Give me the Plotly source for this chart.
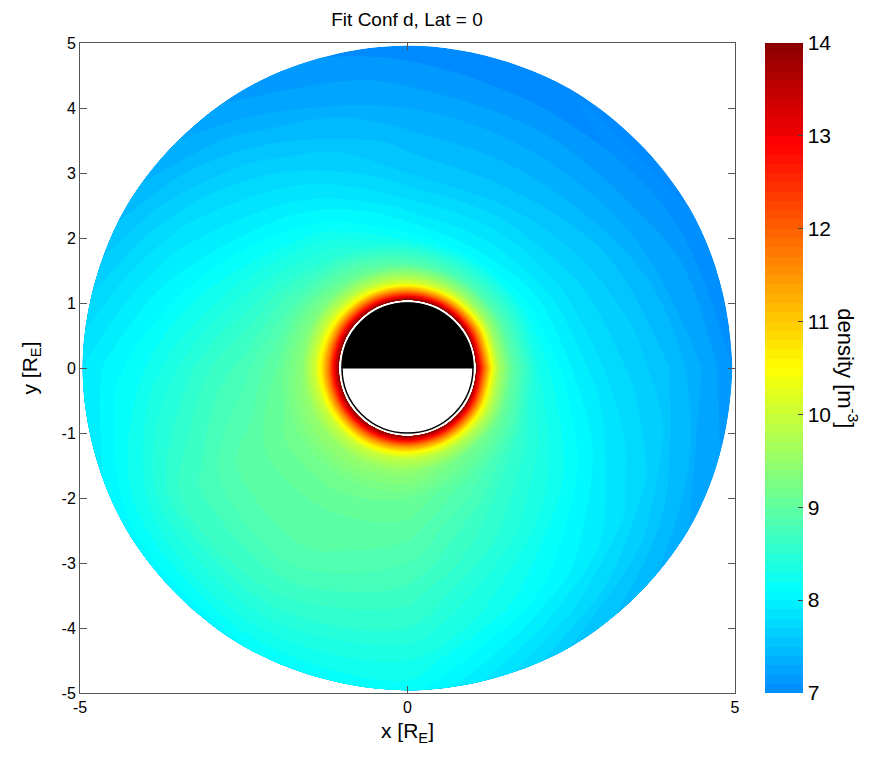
import numpy as np
import plotly.graph_objects as go

# ---- data ----
RADII = [1.05, 1.12, 1.2, 1.3, 1.4, 1.6, 2.0, 2.5, 3.0, 3.5, 4.0, 4.5, 4.96]   # R_E
ANGLES = [0, 30, 60, 90, 120, 150, 180, 210, 240, 270, 300, 330, 360]          # deg, from +x

DENS_000 = [14.0, 12.7, 11.6, 10.4, 9.7, 9.0, 8.3, 8.0, 7.8, 7.65, 7.5, 7.3, 7.1]
DENS_030 = [14.0, 12.6, 11.5, 10.3, 9.6, 8.85, 8.15, 7.85, 7.65, 7.5, 7.3, 7.15, 7.0]
DENS_060 = [14.0, 12.6, 11.4, 10.2, 9.6, 8.8, 8.05, 7.8, 7.55, 7.4, 7.25, 7.1, 7.0]
DENS_090 = [14.0, 12.6, 11.4, 10.2, 9.7, 8.9, 8.15, 7.85, 7.6, 7.45, 7.3, 7.15, 7.05]
DENS_120 = [14.0, 12.7, 11.6, 10.4, 9.8, 9.1, 8.5, 8.15, 7.9, 7.7, 7.5, 7.3, 7.15]
DENS_150 = [14.0, 12.8, 11.7, 10.6, 10.0, 9.3, 8.8, 8.45, 8.2, 8.0, 7.85, 7.65, 7.45]
DENS_180 = [14.0, 12.9, 11.8, 10.8, 10.1, 9.4, 9.0, 8.75, 8.6, 8.4, 8.2, 8.05, 7.9]
DENS_210 = [14.0, 12.9, 11.8, 10.7, 10.0, 9.5, 9.15, 9.0, 8.9, 8.75, 8.6, 8.3, 8.05]
DENS_240 = [14.0, 12.9, 11.8, 10.7, 10.0, 9.5, 9.15, 9.0, 8.95, 8.8, 8.6, 8.35, 8.1]
DENS_270 = [14.0, 12.8, 11.6, 10.5, 9.9, 9.45, 9.1, 8.95, 8.8, 8.65, 8.5, 8.3, 8.15]
DENS_300 = [14.0, 12.7, 11.6, 10.4, 9.8, 9.2, 8.85, 8.6, 8.45, 8.25, 8.1, 7.85, 7.6]
DENS_330 = [14.0, 12.7, 11.6, 10.4, 9.8, 9.1, 8.55, 8.3, 8.1, 7.9, 7.75, 7.5, 7.3]

X_TICKS = [-5, 0, 5]
X_TICK_TEXT = ["-5", "0", "5"]
Y_TICKS = [-5, -4, -3, -2, -1, 0, 1, 2, 3, 4, 5]
Y_TICK_TEXT = ["-5", "-4", "-3", "-2", "-1", "0", "1", "2", "3", "4", "5"]
CB_TICKS = [7, 8, 9, 10, 11, 12, 13, 14]
EARTH_RADIUS = 1.0

# ---- build grid ----
Z = [DENS_000, DENS_030, DENS_060, DENS_090, DENS_120, DENS_150, DENS_180,
     DENS_210, DENS_240, DENS_270, DENS_300, DENS_330, DENS_000]
r = np.array(RADII)
th = np.deg2rad(np.array(ANGLES))
X = np.outer(np.cos(th), r)
Y = np.outer(np.sin(th), r)

JET = [
    [0.0, "rgb(0,138,255)"],
    [0.157, "rgb(0,255,255)"],
    [0.5, "rgb(255,255,0)"],
    [0.843, "rgb(255,0,0)"],
    [1.0, "rgb(138,0,0)"],
]

FONT = "Liberation Sans, Arial, Helvetica, sans-serif"

fig = go.Figure()
hidden_axis = dict(showgrid=False, showline=False, startline=False, endline=False,
                   showticklabels="none", minorgridcount=0, gridwidth=0,
                   tickmode="array", tickvals=[])
fig.add_trace(go.Carpet(
    a=RADII, b=ANGLES, x=X, y=Y, carpet="polar",
    aaxis=dict(hidden_axis, smoothing=0),
    baxis=dict(hidden_axis, smoothing=1),
))
fig.add_trace(go.Contourcarpet(
    a=RADII, b=ANGLES, z=Z, carpet="polar",
    colorscale=JET, zauto=False, zmin=7, zmax=14,
    autocontour=False,
    contours=dict(start=7, end=14, size=0.1, coloring="fill", showlines=False),
    line=dict(width=0),
    colorbar=dict(
        x=1.0458, xanchor="left", xpad=0,
        y=0, yanchor="bottom", len=1, ypad=0,
        thickness=38, outlinewidth=0,
        tickvals=CB_TICKS, ticks="inside", ticklen=5, tickcolor="#444",
        tickfont=dict(size=21, family=FONT, color="black"),
    ),
))

# Earth: white disc with black outline, dayside/nightside halves
k = 0.5523 * EARTH_RADIUS
R = EARTH_RADIUS
fig.add_shape(type="circle", x0=-R, y0=-R, x1=R, y1=R, xref="x", yref="y",
              fillcolor="white", line=dict(color="black", width=1.5))
fig.add_shape(type="path", xref="x", yref="y",
              path=f"M {-R},0 C {-R},{k} {-k},{R} 0,{R} C {k},{R} {R},{k} {R},0 Z",
              fillcolor="black", line=dict(color="black", width=1))

fig.add_annotation(text="density [m<sup>-3</sup>]", textangle=90,
                   xref="paper", yref="paper", x=1.172, y=0.5,
                   xanchor="center", yanchor="middle", showarrow=False,
                   font=dict(size=22, family=FONT, color="black"))

axis_common = dict(showgrid=False, zeroline=False, showline=True, mirror="ticks",
                   linecolor="#555", linewidth=1, ticks="inside", ticklen=7,
                   tickcolor="#555", tickfont=dict(size=16, family=FONT, color="black"))
fig.update_layout(
    width=860, height=749,
    margin=dict(l=72, r=133, t=35, b=64),
    paper_bgcolor="white", plot_bgcolor="white",
    title=dict(text="Fit Conf d, Lat = 0", x=0.464, xanchor="center",
               y=0.985, yanchor="middle",
               font=dict(size=19, family=FONT, color="black")),
    xaxis=dict(axis_common, range=[-5, 5], tickvals=X_TICKS, ticktext=X_TICK_TEXT,
               title=dict(text="x [R<sub>E</sub>]", font=dict(size=21, family=FONT, color="black"), standoff=8)),
    yaxis=dict(axis_common, range=[-5, 5], tickvals=Y_TICKS, ticktext=Y_TICK_TEXT,
               title=dict(text="y [R<sub>E</sub>]", font=dict(size=21, family=FONT, color="black"), standoff=18)),
    showlegend=False,
)

fig.write_html("out.html")
